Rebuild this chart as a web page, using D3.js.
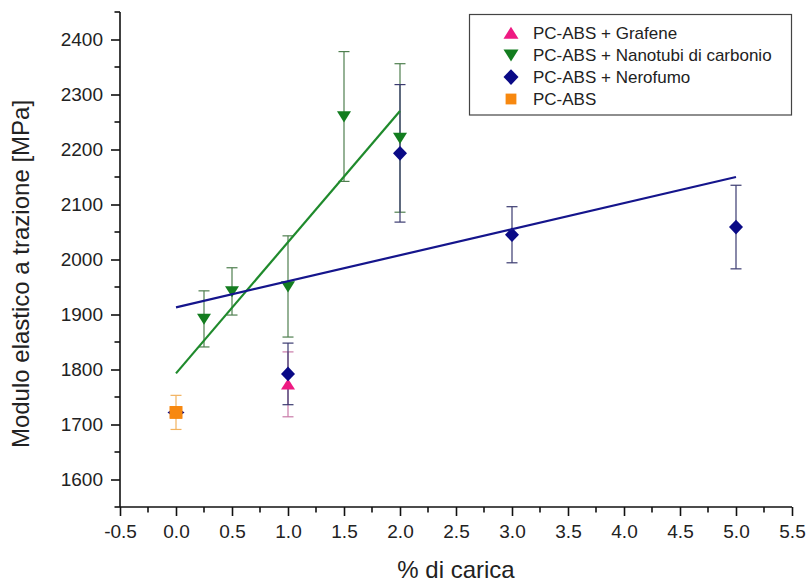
<!DOCTYPE html>
<html>
<head>
<meta charset="utf-8">
<script src="https://cdn.jsdelivr.net/npm/d3@7/dist/d3.min.js"></script>
<style>
  html, body { margin: 0; padding: 0; background: #fff; }
  svg { display: block; font-family: "Liberation Sans", Arial, sans-serif; }
</style>
</head>
<body>
<svg id="chart" width="807" height="582"></svg>
<script>
// Tensile modulus vs. filler content for PC-ABS composites
const seriesNames = ["PC-ABS + Grafene", "PC-ABS + Nanotubi di carbonio", "PC-ABS + Nerofumo", "PC-ABS"];
const seriesColors = ["#ee1a82", "#137d1f", "#0a0a86", "#f7880f"];
const errorColors = ["#c97aa8", "#4f7f4f", "#3a3a70", "#f2b25e"];
const seriesSymbols = ["triangle", "triangleDown", "diamond", "square"];

// x = % di carica, y = modulo [MPa], e = deviazione
const grafeneX = [1.0];
const grafeneY = [1773];
const grafeneE = [59];

const nanotubiX = [0.25, 0.5, 1.0, 1.5, 2.0];
const nanotubiY = [1892, 1942, 1951, 2260, 2221];
const nanotubiE = [51, 43, 92, 118, 135];

const nerofumoX = [0.0, 1.0, 2.0, 3.0, 5.0];
const nerofumoY = [1722, 1792, 2193, 2045, 2059];
const nerofumoE = [0, 56, 125, 51, 76];

const baseX = [0.0];
const baseY = [1722];
const baseE = [31];

// linear fits: [x start, x end] and [y start, y end]
const fitNanotubiX = [0.0, 2.0];
const fitNanotubiY = [1793, 2270];
const fitNerofumoX = [0.0, 5.0];
const fitNerofumoY = [1913, 2150];

const xTicks = [-0.5, 0.0, 0.5, 1.0, 1.5, 2.0, 2.5, 3.0, 3.5, 4.0, 4.5, 5.0, 5.5];
const yTicks = [1600, 1700, 1800, 1900, 2000, 2100, 2200, 2300, 2400];

const svg = d3.select("#chart");
const x = d3.scaleLinear().domain([-0.5, 5.5]).range([120, 792]);
const y = d3.scaleLinear().domain([1550, 2450]).range([507, 12]);

const zip = (xs, ys, es) => xs.map((v, i) => ({ x: v, y: ys[i], e: es[i] }));
const series = [
  { data: zip(grafeneX, grafeneY, grafeneE) },
  { data: zip(nanotubiX, nanotubiY, nanotubiE) },
  { data: zip(nerofumoX, nerofumoY, nerofumoE) },
  { data: zip(baseX, baseY, baseE) }
];
series.forEach((s, i) => {
  s.name = seriesNames[i]; s.color = seriesColors[i];
  s.errColor = errorColors[i]; s.symbol = seriesSymbols[i];
});

// axes (plain hyphen for negative numbers)
const fmtX = d => d3.format(".1f")(d).replace("\u2212", "-");
const xAxis = d3.axisBottom(x).tickValues(xTicks).tickFormat(fmtX).tickSize(9).tickPadding(9);
const yAxis = d3.axisLeft(y).tickValues(yTicks).tickFormat(d3.format("d")).tickSize(9).tickPadding(8);

const gx = svg.append("g").attr("transform", "translate(0,507)").call(xAxis);
const gy = svg.append("g").attr("transform", "translate(120,0)").call(yAxis);
[gx, gy].forEach(g => {
  g.select(".domain").attr("stroke", "#111").attr("stroke-width", 1.6);
  g.selectAll(".tick line").attr("stroke", "#111").attr("stroke-width", 1.6);
  g.selectAll(".tick text").attr("fill", "#222").style("font-size", "19px")
    .style("font-family", "'Liberation Sans', Arial, sans-serif");
});
gx.select(".domain").attr("d", "M120,0H792");
gy.select(".domain").attr("d", "M0,507V12");

// minor ticks
const xMinor = d3.range(-0.25, 5.5, 0.5);
const yMinor = d3.range(1550, 2451, 100);
svg.append("g").selectAll("line").data(xMinor).join("line")
  .attr("x1", d => x(d)).attr("x2", d => x(d))
  .attr("y1", 507).attr("y2", 512.5)
  .attr("stroke", "#111").attr("stroke-width", 1.6);
svg.append("g").selectAll("line").data(yMinor).join("line")
  .attr("y1", d => y(d)).attr("y2", d => y(d))
  .attr("x1", 120).attr("x2", 114.5)
  .attr("stroke", "#111").attr("stroke-width", 1.6);

// axis titles
svg.append("text").attr("x", 456).attr("y", 578).attr("text-anchor", "middle")
  .style("font-size", "24px").attr("fill", "#222").text("% di carica");
svg.append("text").attr("transform", "translate(29,274) rotate(-90)").attr("text-anchor", "middle")
  .style("font-size", "24px").attr("fill", "#222").text("Modulo elastico a trazione [MPa]");

// symbol path generator (centred at 0,0)
function symbolPath(type, s) {
  const h = s / 2;
  switch (type) {
    case "triangle": return `M0,${-h * 0.85}L${h},${h * 0.75}L${-h},${h * 0.75}Z`;
    case "triangleDown": return `M0,${h * 0.85}L${h},${-h * 0.75}L${-h},${-h * 0.75}Z`;
    case "diamond": return `M0,${-h * 1.05}L${h},0L0,${h * 1.05}L${-h},0Z`;
    case "square": return `M${-h * 0.9},${-h * 0.9}H${h * 0.9}V${h * 0.9}H${-h * 0.9}Z`;
  }
}

// error bars
const errG = svg.append("g");
series.forEach(s => {
  const g = errG.append("g").attr("stroke", s.errColor).attr("stroke-width", 1.2);
  s.data.filter(d => d.e > 0).forEach(d => {
    g.append("line").attr("x1", x(d.x)).attr("x2", x(d.x)).attr("y1", y(d.y - d.e)).attr("y2", y(d.y + d.e));
    [d.y - d.e, d.y + d.e].forEach(v => {
      g.append("line").attr("x1", x(d.x) - 5.5).attr("x2", x(d.x) + 5.5).attr("y1", y(v)).attr("y2", y(v));
    });
  });
});

// markers
series.forEach(s => {
  svg.append("g").selectAll("path").data(s.data).join("path")
    .attr("transform", d => `translate(${x(d.x)},${y(d.y)})`)
    .attr("d", d => (s.symbol === "diamond" && d.x === 0) ? "M0,-6L8.5,0L0,6L-8.5,0Z" : symbolPath(s.symbol, 14))
    .attr("fill", s.color);
});

// fit lines
const line = d3.line().x(d => x(d[0])).y(d => y(d[1]));
svg.append("path").datum(fitNanotubiX.map((v, i) => [v, fitNanotubiY[i]]))
  .attr("d", line).attr("fill", "none").attr("stroke", "#1f8a2c").attr("stroke-width", 2.2);
svg.append("path").datum(fitNerofumoX.map((v, i) => [v, fitNerofumoY[i]]))
  .attr("d", line).attr("fill", "none").attr("stroke", "#15158c").attr("stroke-width", 2.2);

// base sample drawn last so it sits on top
svg.append("path").attr("transform", `translate(${x(baseX[0])},${y(baseY[0])})`)
  .attr("d", symbolPath("square", 14)).attr("fill", seriesColors[3]);

// legend
const lg = svg.append("g");
lg.append("rect").attr("x", 469.5).attr("y", 14.5).attr("width", 322).attr("height", 100.5)
  .attr("fill", "#fff").attr("stroke", "#444").attr("stroke-width", 1.2);
series.forEach((s, i) => {
  const cy = 33 + i * 22;
  lg.append("path").attr("transform", `translate(511,${cy})`)
    .attr("d", s.symbol === "square" ? symbolPath("square", 12) : symbolPath(s.symbol, 15)).attr("fill", s.color);
  lg.append("text").attr("x", 533).attr("y", cy + 6).style("font-size", "17px").attr("fill", "#222").text(s.name);
});
</script>
</body>
</html>
